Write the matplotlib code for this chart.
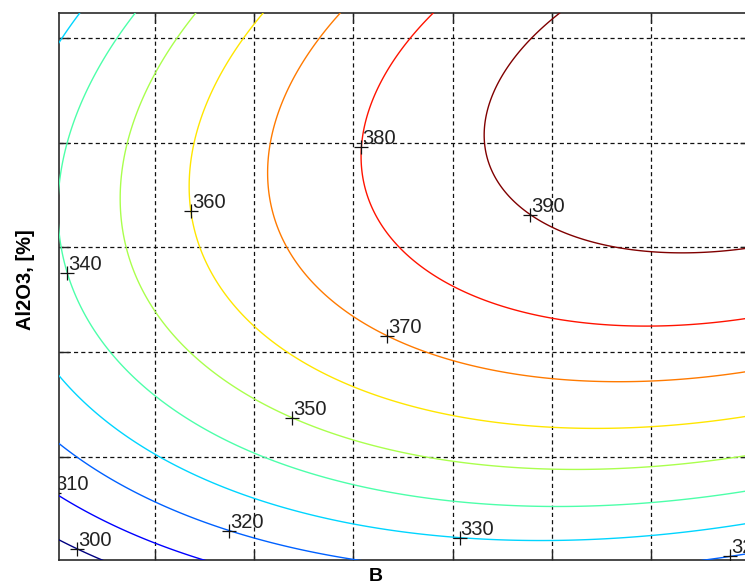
import numpy as np
import matplotlib
matplotlib.use("Agg")
import matplotlib.pyplot as plt

# Quadratic response surface z = b0 + bB*B + bA*A + bBB*B^2 + bAA*A^2 + bAB*A*B
# (B on the horizontal axis, Al2O3 on the vertical axis, coded units)
b0 = 293.99
b_B = 12.235
b_A = 27.175
b_BB = -1.2801
b_AA = -4.0435
b_AB = 1.3329

levels = [300, 310, 320, 330, 340, 350, 360, 370, 380, 390]

# Approximate spots where each contour carries its value label
label_values = [300, 310, 320, 320, 330, 340, 350, 360, 370, 380, 390]
label_spots_B = [0.22, -0.04, 1.75, 6.80, 4.07, 0.11, 2.38, 1.35, 3.34, 3.10, 4.80]
label_spots_A = [0.14, 0.62, 0.31, 0.05, 0.24, 2.75, 1.38, 3.35, 2.15, 3.96, 3.34]

b_ticks = [1, 2, 3, 4, 5, 6]
a_ticks = [1, 2, 3, 4, 5]
b_lim = (0.0292, 7.0)
a_lim = (0.0257, 5.238)

plt.rcParams['font.family'] = ['Liberation Sans', 'DejaVu Sans']

fig = plt.figure(figsize=(7.45, 5.86), dpi=100, facecolor='white')
ax = fig.add_axes([0.0788, 0.0452, 0.9282, 0.9331])

bb, aa = np.meshgrid(np.linspace(-0.2, 7.2, 300), np.linspace(-0.2, 5.4, 300))
zz = b0 + b_B * bb + b_A * aa + b_BB * bb ** 2 + b_AA * aa ** 2 + b_AB * aa * bb

cs = ax.contour(bb, aa, zz, levels=levels, cmap='jet', linewidths=1.0, zorder=3)

# Place labels on the nearest contour, then draw them as "+" with the value beside it
spots = list(zip(label_spots_B, label_spots_A))
texts = ax.clabel(cs, manual=spots, inline=False, fmt='%d', fontsize=14)
for t in list(texts):
    x, y = t.get_position()
    s = t.get_text()
    t.remove()
    ax.plot(x, y, marker='+', ms=9.5, mew=0.9, color='#111111', zorder=5)
    ax.annotate(s, (x, y), xytext=(1, 3), textcoords='offset pixels',
                ha='left', va='baseline', fontsize=14.5, color='#222222',
                annotation_clip=False, clip_on=True, zorder=6)

ax.set_xlim(*b_lim)
ax.set_ylim(*a_lim)
ax.set_xticks(b_ticks)
ax.set_yticks(a_ticks)
ax.tick_params(direction='in', length=7, width=1.0, color='#222222',
               top=True, right=True, labelbottom=False, labelleft=False)
ax.grid(True, color='#111111', linewidth=0.9, linestyle=(0, (3.3, 2.5)))
ax.set_axisbelow(True)
for sp in ax.spines.values():
    sp.set_linewidth(1.2)
    sp.set_color('#2a2a2a')

ax.set_xlabel('B', fontsize=14, fontweight='bold', va='center')
ax.xaxis.set_label_coords(0.459, -0.031)
ax.set_ylabel('Al2O3, [%]', fontsize=14.5, fontweight='bold', va='center')
ax.yaxis.set_label_coords(-0.0475, 0.511)

fig.savefig("out.png", dpi=100, facecolor='white')
